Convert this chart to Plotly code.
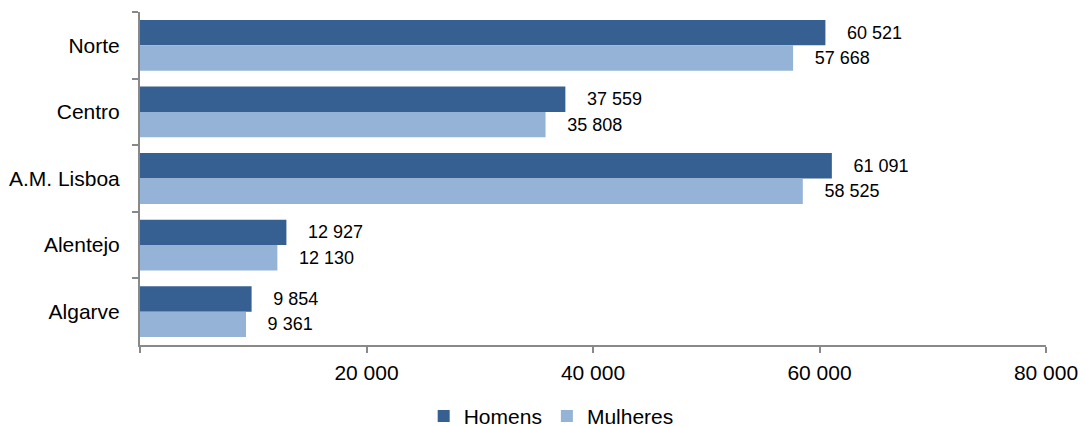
import plotly.graph_objects as go

regions = ["Norte", "Centro", "A.M. Lisboa", "Alentejo", "Algarve"]
homens = [60521, 37559, 61091, 12927, 9854]
mulheres = [57668, 35808, 58525, 12130, 9361]
x_ticks = [0, 20000, 40000, 60000, 80000]
x_tick_labels = ["", "20 000", "40 000", "60 000", "80 000"]

def fmt(v):
    return "   \u2009" + f"{v:,}".replace(",", " ")

FONT = "Liberation Sans, Arial, sans-serif"
FS = 21
LFS = 18

fig = go.Figure()
fig.add_trace(go.Bar(
    y=regions, x=homens, name="Homens", orientation="h",
    marker=dict(color="#376092", line=dict(width=0)),
    text=[fmt(v) for v in homens], textposition="outside",
    textfont=dict(size=LFS, color="#000000", family=FONT), cliponaxis=False,
))
fig.add_trace(go.Bar(
    y=regions, x=mulheres, name="Mulheres", orientation="h",
    marker=dict(color="#95b3d7", line=dict(width=0)),
    text=[fmt(v) for v in mulheres], textposition="outside",
    textfont=dict(size=LFS, color="#000000", family=FONT), cliponaxis=False,
))

fig.update_layout(
    width=1085, height=427,
    margin=dict(l=140, r=39, t=12, b=82),
    paper_bgcolor="white", plot_bgcolor="white",
    barmode="group", bargap=0.237, bargroupgap=0,
    font=dict(family=FONT, size=FS, color="#000000"),
    showlegend=True,
    legend=dict(orientation="h", x=0.508, xanchor="center", xref="container",
                y=0.025, yanchor="middle", yref="container",
                font=dict(size=FS), itemwidth=30, traceorder="normal"),
    xaxis=dict(range=[0, 80000], tickvals=x_ticks, ticktext=x_tick_labels,
               showgrid=False, zeroline=False, showline=True, linecolor="#898989",
               linewidth=2, ticks="outside", ticklen=6, tickcolor="#898989",
               tickwidth=2, ticklabelstandoff=2, automargin=False),
    yaxis=dict(categoryorder="array", categoryarray=regions, autorange="reversed",
               showgrid=False, zeroline=False, showline=True, linecolor="#898989",
               linewidth=2, ticks="outside", ticklen=6, tickcolor="#898989",
               tickwidth=2, tickson="boundaries", ticklabelstandoff=14,
               automargin=False),
)

fig.write_html("out.html", config={"displayModeBar": False},
               post_script="document.body.style.margin='0';")
